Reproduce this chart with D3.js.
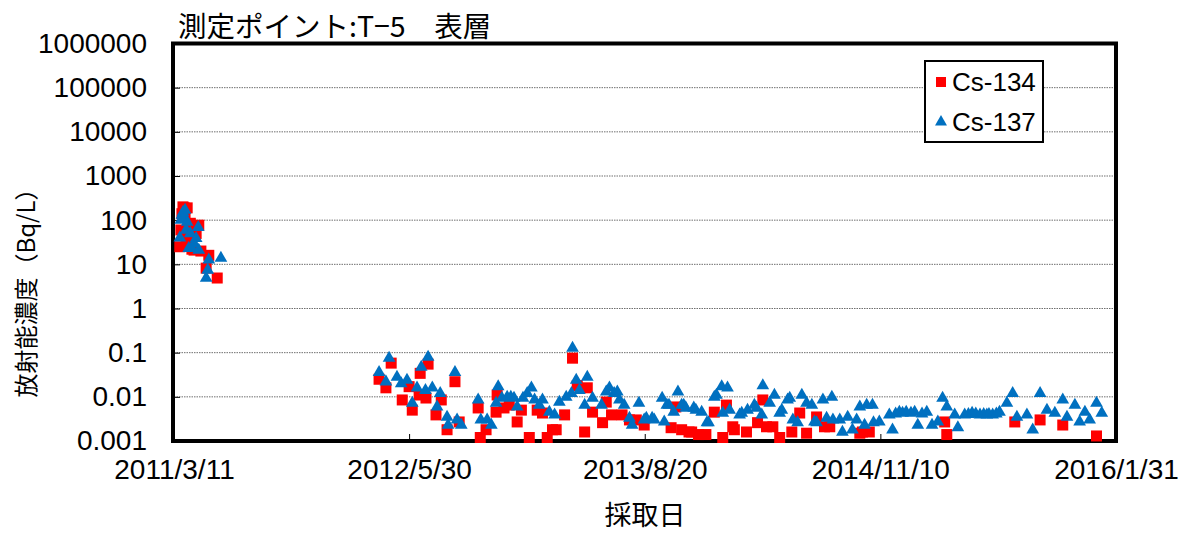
<!DOCTYPE html>
<html><head><meta charset="utf-8">
<script src="https://cdn.jsdelivr.net/npm/d3@7"></script>
<style>
html,body{margin:0;padding:0;background:#fff;}
svg{display:block;}
</style></head>
<body>
<script>
const titleText = "測定ポイント:T−5　表層";
const yAxisTitle = "放射能濃度（Bq/L）";
const xAxisTitle = "採取日";
const seriesNames = ["Cs-134", "Cs-137"];
const xTickLabels = ["2011-03-11","2012-05-30","2013-08-20","2014-11-10","2016-01-31"];
const yTickValues = [0.001,0.01,0.1,1,10,100,1000,10000,100000,1000000];

const cs134Dates = ["2011-03-22","2011-03-24","2011-03-26","2011-03-28","2011-03-30","2011-04-01","2011-04-03","2011-04-05","2011-04-08","2011-04-11","2011-04-14","2011-04-18","2011-04-22","2011-04-27","2011-05-01","2011-05-11","2011-05-16","2011-06-01",
"2012-04-03","2012-04-16","2012-04-26","2012-05-17","2012-05-30","2012-06-05","2012-06-18","2012-06-20","2012-07-01","2012-07-05","2012-07-20","2012-07-30","2012-08-10","2012-08-25","2012-09-02","2012-10-08","2012-10-12","2012-10-23","2012-11-11","2012-11-13","2012-11-26","2012-12-06","2012-12-21","2012-12-29",
"2013-01-13","2013-01-28","2013-02-07","2013-02-16","2013-02-26","2013-03-05","2013-03-21","2013-04-05","2013-04-14","2013-04-28","2013-05-03","2013-05-13","2013-06-01","2013-06-08","2013-06-18","2013-07-08","2013-07-22","2013-08-04","2013-08-19","2013-10-09","2013-10-18","2013-10-29","2013-11-12","2013-11-17","2013-11-30","2013-12-14","2013-12-30",
"2014-01-15","2014-01-22","2014-02-03","2014-02-06","2014-03-01","2014-03-22","2014-04-01","2014-04-08","2014-04-20","2014-05-03","2014-05-26","2014-06-10","2014-06-23","2014-07-12","2014-07-27","2014-08-06","2014-10-02","2014-10-07","2014-10-20",
"2015-03-12","2015-03-16","2015-07-23","2015-09-09","2015-10-22","2015-12-25"];
const cs134Values = [25,60,140,200,190,120,40,190,30,85,22,21,50,77,20,8.2,16,4.9,
0.025,0.016,0.058,0.0085,0.017,0.005,0.011,0.034,0.0094,0.055,0.0039,0.0085,0.0018,0.022,0.0027,0.0056,0.0012,0.0018,0.0045,0.011,0.0056,0.0065,0.0027,0.005,
0.0012,0.005,0.0043,0.0012,0.0018,0.0018,0.0039,0.075,0.018,0.0016,0.016,0.0045,0.0026,0.0076,0.0039,0.0039,0.003,0.003,0.0023,0.002,0.0059,0.0018,0.0016,0.0016,0.0014,0.0014,0.0045,
0.0012,0.0065,0.0021,0.0018,0.0016,0.0026,0.0085,0.0021,0.0021,0.0012,0.0016,0.0043,0.0015,0.0035,0.0021,0.0021,0.0015,0.0016,0.0016,
0.0027,0.0014,0.0027,0.003,0.0023,0.0013];

const cs137Dates = ["2011-03-22","2011-03-24","2011-03-26","2011-03-28","2011-03-30","2011-04-01","2011-04-03","2011-04-05","2011-04-08","2011-04-11","2011-04-14","2011-04-18","2011-04-22","2011-04-26","2011-04-27","2011-05-11","2011-05-14","2011-05-16","2011-06-08",
"2012-04-03","2012-04-16","2012-04-22","2012-05-07","2012-05-15","2012-05-26","2012-06-05","2012-06-14","2012-06-22","2012-06-30","2012-07-05","2012-07-13","2012-07-22","2012-07-28","2012-08-10","2012-08-12","2012-08-25","2012-08-29","2012-09-06","2012-10-08","2012-10-13","2012-10-25","2012-11-02","2012-11-11","2012-11-15","2012-11-22","2012-12-02","2012-12-09","2012-12-15","2012-12-21",
"2013-01-01","2013-01-09","2013-01-17","2013-01-23","2013-02-01","2013-02-07","2013-02-20","2013-03-02","2013-03-11","2013-03-24","2013-04-03","2013-04-05","2013-04-12","2013-04-18","2013-04-28","2013-05-03","2013-05-13","2013-05-30","2013-06-08","2013-06-14","2013-06-23","2013-06-29","2013-07-03","2013-07-12","2013-07-22","2013-07-27","2013-08-09","2013-08-19","2013-08-23","2013-09-03","2013-09-07","2013-09-22","2013-09-26","2013-10-01","2013-10-05","2013-10-14","2013-10-22","2013-10-29","2013-11-02","2013-11-06","2013-11-21","2013-11-25","2013-12-06","2013-12-16","2013-12-19","2013-12-30",
"2014-01-03","2014-01-13","2014-01-15","2014-01-24","2014-01-28","2014-02-16","2014-02-20","2014-03-03","2014-03-16","2014-03-20","2014-03-30","2014-04-01","2014-04-14","2014-04-23","2014-05-03","2014-05-07","2014-05-18","2014-05-22","2014-05-28","2014-06-06","2014-06-14","2014-06-23","2014-07-03","2014-07-08","2014-07-12","2014-07-24","2014-07-31","2014-08-10","2014-08-12","2014-08-25","2014-08-30","2014-09-09","2014-09-18","2014-09-26","2014-10-02","2014-10-11","2014-10-15","2014-10-26","2014-10-28","2014-11-08","2014-11-27","2014-12-03","2014-12-09","2014-12-16","2014-12-22","2014-12-29",
"2015-01-07","2015-01-14","2015-01-20","2015-01-28","2015-02-06","2015-02-16","2015-02-27","2015-03-08","2015-03-16","2015-03-31","2015-04-06","2015-04-19","2015-04-26","2015-05-03","2015-05-10","2015-05-18","2015-05-25","2015-05-31","2015-06-04","2015-06-11","2015-06-18","2015-06-24","2015-07-08","2015-07-19","2015-07-27","2015-08-15","2015-08-26","2015-09-09","2015-09-22","2015-10-07","2015-10-22","2015-10-30","2015-11-14","2015-11-23","2015-12-03","2015-12-12","2015-12-25","2016-01-04"];
const cs137Values = [40,100,130,150,120,170,60,90,23,50,23,30,39,69,21,4.9,7.4,12.6,13.8,
0.036,0.022,0.075,0.028,0.02,0.024,0.0072,0.016,0.047,0.014,0.079,0.016,0.0059,0.012,0.0035,0.0023,0.036,0.003,0.0023,0.0085,0.003,0.003,0.0023,0.0072,0.017,0.0094,0.0099,0.0099,0.0094,0.0059,
0.0094,0.012,0.016,0.0085,0.0065,0.0085,0.0045,0.0039,0.0076,0.0099,0.012,0.127,0.024,0.014,0.0065,0.028,0.0094,0.0065,0.013,0.016,0.012,0.013,0.0085,0.0065,0.0033,0.0023,0.0072,0.003,0.0033,0.0033,0.003,0.0094,0.0027,0.0065,0.0065,0.0045,0.013,0.0065,0.0065,0.0056,0.0056,0.005,0.0045,0.0026,0.0026,0.0099,
0.011,0.017,0.0043,0.016,0.005,0.0039,0.0043,0.005,0.0065,0.0056,0.0039,0.018,0.0072,0.011,0.0043,0.005,0.0085,0.0094,0.003,0.0026,0.011,0.0072,0.0065,0.0027,0.0026,0.0085,0.0033,0.0099,0.003,0.003,0.0016,0.0035,0.0018,0.003,0.0059,0.0023,0.0065,0.0065,0.0026,0.0027,0.0039,0.0018,0.0041,0.0045,0.0043,0.0045,
0.0043,0.0045,0.0023,0.0041,0.0045,0.0023,0.0027,0.0094,0.0059,0.0039,0.002,0.0039,0.004,0.0043,0.0041,0.0039,0.004,0.0039,0.004,0.0039,0.0041,0.0045,0.0072,0.012,0.0035,0.0039,0.0018,0.012,0.005,0.0043,0.0085,0.0035,0.0065,0.0027,0.0045,0.003,0.0072,0.0043];

const W = 1179, H = 533;
const plot = {left: 174, right: 1116, top: 43.5, bottom: 441};
const parse = d3.timeParse("%Y-%m-%d");
const fmt = d3.timeFormat("%Y/%-m/%-d");
const latin = "'Liberation Sans', Arial, sans-serif";
const cjk = "'Noto Sans CJK JP', sans-serif";

const svg = d3.select("body").append("svg").attr("width", W).attr("height", H)
  .style("font-family", latin);

const x = d3.scaleTime().domain([parse(xTickLabels[0]), parse(xTickLabels[xTickLabels.length-1])]).range([plot.left, plot.right]);
const y = d3.scaleLog().domain([0.001, 1000000]).range([plot.bottom, plot.top]);

// gridlines
svg.append("g").selectAll("line").data(yTickValues.filter(v => v > 0.001 && v < 1000000)).join("line")
  .attr("x1", plot.left).attr("x2", plot.right)
  .attr("y1", d => y(d)).attr("y2", d => y(d))
  .attr("stroke", "#6f6f6f").attr("stroke-width", 1).attr("stroke-dasharray", "1.5,1");

// y axis
const yAxis = d3.axisLeft(y).tickValues(yTickValues).tickSize(-6).tickPadding(27)
  .tickFormat(d => d >= 1 ? d3.format("d")(d) : String(d));
const gy = svg.append("g").attr("transform", `translate(${plot.left},0)`).call(yAxis);
gy.select(".domain").remove();
gy.selectAll(".tick line").attr("stroke", "#000").attr("stroke-width", 1);
gy.selectAll(".tick text").attr("font-size", 28).attr("fill", "#000").attr("font-family", latin);

// x axis
const xAxis = d3.axisBottom(x).tickValues(xTickLabels.map(parse)).tickSize(-7).tickPadding(18).tickFormat(fmt);
const gx = svg.append("g").attr("transform", `translate(0,${plot.bottom})`).call(xAxis);
gx.select(".domain").remove();
gx.selectAll(".tick line").attr("stroke", "#000").attr("stroke-width", 1);
gx.selectAll(".tick text").attr("font-size", 28).attr("fill", "#000").attr("font-family", latin);

// frame
svg.append("rect").attr("x", plot.left - 1).attr("y", plot.top).attr("width", plot.right - plot.left + 1).attr("height", plot.bottom - plot.top)
  .attr("fill", "none").attr("stroke", "#000").attr("stroke-width", 4);

// data
const d134 = cs134Dates.map((d, i) => ({date: parse(d), value: cs134Values[i]}));
const d137 = cs137Dates.map((d, i) => ({date: parse(d), value: cs137Values[i]}));
const sq = 11;
svg.append("g").selectAll("rect").data(d134).join("rect")
  .attr("x", d => x(d.date) - sq/2).attr("y", d => y(d.value) - sq/2)
  .attr("width", sq).attr("height", sq).attr("fill", "#ff0000");
const tri = d3.symbol().type(d3.symbolTriangle).size(70);
svg.append("g").selectAll("path").data(d137).join("path")
  .attr("d", tri).attr("transform", d => `translate(${x(d.date)},${y(d.value)})`)
  .attr("fill", "#0070c0");

// legend
const lg = svg.append("g");
lg.append("rect").attr("x", 925).attr("y", 61).attr("width", 118).attr("height", 81)
  .attr("fill", "#fff").attr("stroke", "#000").attr("stroke-width", 2);
lg.append("rect").attr("x", 936).attr("y", 77).attr("width", 10).attr("height", 10).attr("fill", "#ff0000");
lg.append("path").attr("d", d3.symbol().type(d3.symbolTriangle).size(62)).attr("transform", "translate(941,122)").attr("fill", "#0070c0");
lg.append("text").attr("x", 952).attr("y", 91).attr("font-size", 26).text(seriesNames[0]);
lg.append("text").attr("x", 952).attr("y", 131).attr("font-size", 26).text(seriesNames[1]);

// titles
svg.append("text").attr("x", 178).attr("y", 37).attr("font-size", 28.5)
  .attr("font-family", cjk).text(titleText);
svg.append("text").attr("transform", "translate(35,287) rotate(-90)").attr("text-anchor", "middle")
  .attr("font-size", 24).attr("font-family", cjk).text(yAxisTitle);
svg.append("text").attr("x", 645).attr("y", 525).attr("text-anchor", "middle")
  .attr("font-size", 27).attr("font-family", cjk).text(xAxisTitle);
</script>
</body></html>
